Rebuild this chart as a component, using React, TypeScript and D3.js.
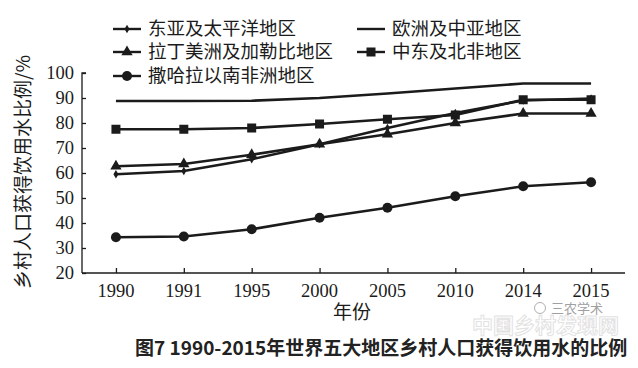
import { useRef, useEffect } from 'react';
import * as d3 from 'd3';
import React from 'react';

const years = ['1990', '1991', '1995', '2000', '2005', '2010', '2014', '2015'];

const eastAsia = [59.5, 60.8, 65.5, 71.5, 78, 84, 89, 89.8];
const europe = [88.8, 88.8, 88.9, 90, 91.8, 93.8, 95.8, 95.8];
const latinAm = [62.7, 63.6, 67.3, 71.5, 75.5, 80, 83.8, 83.8];
const midEast = [77.5, 77.5, 78, 79.6, 81.5, 83.2, 89.3, 89.3];
const subSahara = [34.3, 34.6, 37.5, 42.1, 46.1, 50.7, 54.7, 56.3];

const seriesNames = ['东亚及太平洋地区', '欧洲及中亚地区', '拉丁美洲及加勒比地区', '中东及北非地区', '撒哈拉以南非洲地区'];
const yTicks = [20, 30, 40, 50, 60, 70, 80, 90, 100];

const serif = '"Liberation Serif", "Times New Roman", serif';
const cjk = '"Noto Sans CJK SC", sans-serif';
const ink = '#1b1b1b';

const App = () => {
  const svgRef = useRef(null);

  useEffect(() => {
    const svg = d3.select(svgRef.current);
    svg.selectAll('*').remove();

    const left = 82, right = 625, top = 73, bottom = 273;

    const x = d3.scalePoint().domain(years).range([left, right]).padding(0.5);
    const y = d3.scaleLinear().domain([20, 100]).range([bottom, top]);

    // axes, ticks pointing inward
    const yAxis = svg.append('g')
      .attr('transform', `translate(${left},0)`)
      .call(d3.axisRight(y).tickValues(yTicks).tickSize(4).tickFormat(() => ''));
    yAxis.select('.domain').attr('d', `M4,${top}H0V${bottom}`);
    yAxis.selectAll('path,line').attr('stroke', ink).attr('stroke-width', 1.3);

    const xAxis = svg.append('g')
      .attr('transform', `translate(0,${bottom})`)
      .call(d3.axisTop(x).tickSize(5).tickFormat(() => ''));
    xAxis.select('.domain').attr('d', `M${left},0H${right}`);
    xAxis.selectAll('path,line').attr('stroke', ink).attr('stroke-width', 1.3);

    // tick labels
    svg.append('g').selectAll('text').data(yTicks).enter().append('text')
      .attr('x', left - 8).attr('y', d => y(d)).attr('dy', '0.35em')
      .attr('text-anchor', 'end').attr('font-family', serif).attr('font-size', 18.5)
      .attr('fill', ink).text(d => d);

    svg.append('g').selectAll('text').data(years).enter().append('text')
      .attr('x', d => x(d)).attr('y', bottom + 24)
      .attr('text-anchor', 'middle').attr('font-family', serif).attr('font-size', 18.5)
      .attr('fill', ink).text(d => d);

    // axis titles
    svg.append('text')
      .attr('transform', 'translate(30,172) rotate(-90)')
      .attr('text-anchor', 'middle').attr('font-family', cjk).attr('font-size', 19)
      .attr('fill', ink).text('乡村人口获得饮用水比例/%');

    svg.append('text')
      .attr('x', 352).attr('y', 319).attr('text-anchor', 'middle')
      .attr('font-family', cjk).attr('font-size', 19).attr('fill', ink).text('年份');

    const line = d3.line().x((d, i) => x(years[i])).y(d => y(d));

    const drawMarker = (g, kind, cx, cy) => {
      if (kind === 'diamond') {
        g.append('path').attr('d', d3.symbol(d3.symbolDiamond, 22)())
          .attr('transform', `translate(${cx},${cy})`).attr('fill', ink);
      } else if (kind === 'triangle') {
        g.append('path').attr('d', d3.symbol(d3.symbolTriangle, 55)())
          .attr('transform', `translate(${cx},${cy})`).attr('fill', ink);
      } else if (kind === 'square') {
        g.append('rect').attr('x', cx - 4.5).attr('y', cy - 4.5)
          .attr('width', 9).attr('height', 9).attr('fill', ink);
      } else if (kind === 'circle') {
        g.append('circle').attr('cx', cx).attr('cy', cy).attr('r', 5).attr('fill', ink);
      }
    };

    const series = [
      { values: europe, marker: 'none' },
      { values: midEast, marker: 'square' },
      { values: latinAm, marker: 'triangle' },
      { values: eastAsia, marker: 'diamond' },
      { values: subSahara, marker: 'circle' },
    ];

    series.forEach(s => {
      const g = svg.append('g');
      g.append('path').datum(s.values).attr('d', line)
        .attr('fill', 'none').attr('stroke', ink).attr('stroke-width', 2.6);
      s.values.forEach((v, i) => drawMarker(g, s.marker, x(years[i]), y(v)));
    });

    // legend
    const legendItems = [
      { name: seriesNames[0], marker: 'diamond', lx: 113, ly: 29 },
      { name: seriesNames[1], marker: 'none', lx: 357, ly: 29 },
      { name: seriesNames[2], marker: 'triangle', lx: 113, ly: 52 },
      { name: seriesNames[3], marker: 'square', lx: 357, ly: 52 },
      { name: seriesNames[4], marker: 'circle', lx: 113, ly: 76 },
    ];
    legendItems.forEach(d => {
      const g = svg.append('g');
      g.append('line').attr('x1', d.lx).attr('x2', d.lx + 28)
        .attr('y1', d.ly).attr('y2', d.ly).attr('stroke', ink).attr('stroke-width', 2.4);
      drawMarker(g, d.marker, d.lx + 14, d.ly);
      g.append('text').attr('x', d.lx + 35).attr('y', d.ly).attr('dy', '0.35em')
        .attr('font-family', cjk).attr('font-size', 18.5).attr('fill', ink).text(d.name);
    });

    // watermarks
    svg.append('circle').attr('cx', 540).attr('cy', 308).attr('r', 5.5)
      .attr('fill', 'none').attr('stroke', '#b0b0b0').attr('stroke-width', 1);
    svg.append('text').attr('x', 551).attr('y', 313)
      .attr('font-family', cjk).attr('font-size', 13).attr('fill', '#a0a0a0').text('三农学术');
    svg.append('text').attr('x', 472).attr('y', 333)
      .attr('font-family', cjk).attr('font-size', 21).attr('font-weight', 'bold')
      .attr('fill', 'none').attr('stroke', '#e2e2e2').attr('stroke-width', 1)
      .text('中国乡村发现网');

    // caption
    svg.append('text').attr('x', 135).attr('y', 355)
      .attr('font-family', cjk).attr('font-size', 19).attr('font-weight', 'bold')
      .attr('fill', '#222').text('图7 1990-2015年世界五大地区乡村人口获得饮用水的比例');
  }, []);

  return (
    <svg ref={svgRef} width={638} height={368}
      style={{ position: 'absolute', left: 0, top: 0, background: '#fff' }} />
  );
};

export default App;
